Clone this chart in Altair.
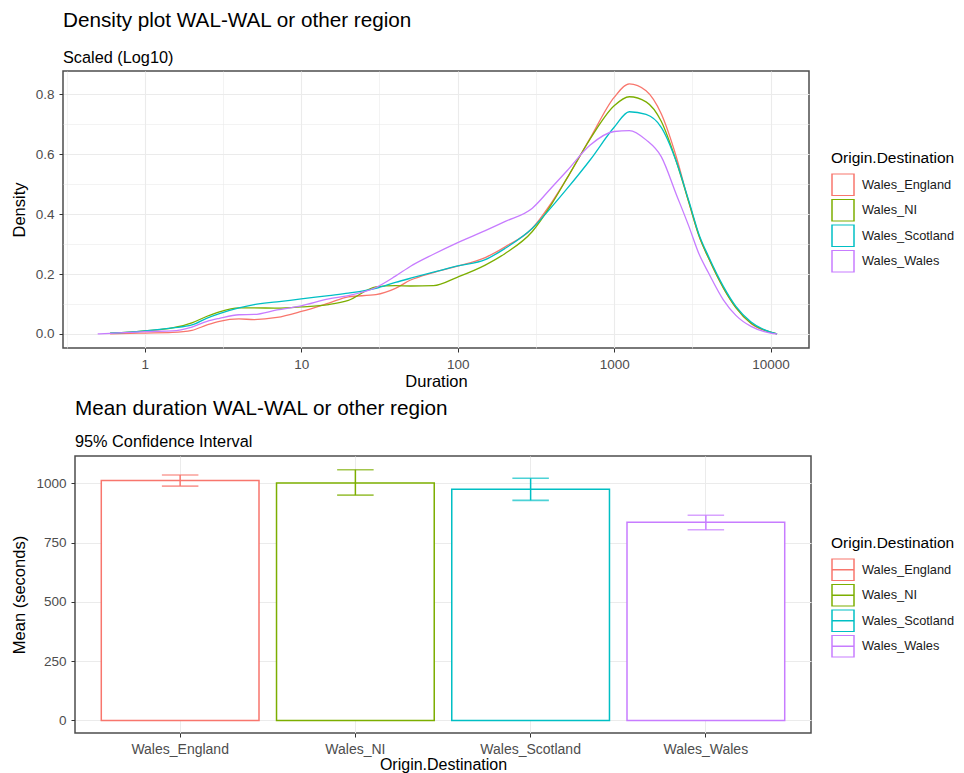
import altair as alt
import pandas as pd

FONT = "Liberation Sans"

categories = ["Wales_England", "Wales_NI", "Wales_Scotland", "Wales_Wales"]
colors = ["#F8766D", "#7CAE00", "#00BFC4", "#C77CFF"]

# Density curves, Duration on a log10 axis
durations = [0.5, 0.6, 0.8, 1, 1.5, 2, 2.5, 3, 4, 5,
             7, 10, 15, 20, 30, 40, 50, 70, 100, 150,
             200, 300, 400, 500, 700, 1000, 1250, 1600, 2000, 2500,
             3000, 3500, 4000, 5000, 6000, 7500, 10000, 11000]
dens_england = [None, 0.0, 0.002, 0.003, 0.005, 0.012, 0.03, 0.042, 0.05, 0.048,
                0.055, 0.075, 0.103, 0.124, 0.131, 0.152, 0.18, 0.205, 0.226, 0.255,
                0.29, 0.353, 0.44, 0.52, 0.652, 0.79, 0.835, 0.812, 0.735, 0.59,
                0.44, 0.325, 0.255, 0.153, 0.088, 0.035, 0.005, 0.0]
dens_ni = [None, 0.003, 0.006, 0.01, 0.02, 0.037, 0.059, 0.074, 0.087, 0.087,
           0.086, 0.09, 0.098, 0.112, 0.157, 0.161, 0.16, 0.161, 0.19, 0.23,
           0.268, 0.342, 0.435, 0.52, 0.65, 0.762, 0.792, 0.775, 0.71, 0.575,
           0.44, 0.325, 0.255, 0.153, 0.088, 0.036, 0.006, 0.0]
dens_scotland = [None, 0.003, 0.006, 0.01, 0.02, 0.03, 0.053, 0.068, 0.087, 0.098,
                 0.107, 0.117, 0.128, 0.136, 0.152, 0.172, 0.186, 0.206, 0.227, 0.248,
                 0.285, 0.353, 0.425, 0.485, 0.58, 0.69, 0.742, 0.733, 0.69, 0.575,
                 0.445, 0.33, 0.26, 0.158, 0.092, 0.04, 0.006, 0.0]
dens_wales = [0.0, 0.002, 0.005, 0.008, 0.01, 0.023, 0.042, 0.052, 0.064, 0.065,
              0.08, 0.094, 0.117, 0.128, 0.155, 0.193, 0.226, 0.266, 0.305, 0.345,
              0.375, 0.42, 0.49, 0.545, 0.63, 0.676, 0.679, 0.648, 0.592, 0.465,
              0.36, 0.265, 0.205, 0.113, 0.062, 0.025, 0.003, 0.0]

# Mean duration with 95% confidence interval
means = [1012, 1001, 975, 836]
ci_low = [988, 950, 928, 804]
ci_high = [1035, 1057, 1021, 865]

dens = {"Wales_England": dens_england, "Wales_NI": dens_ni,
        "Wales_Scotland": dens_scotland, "Wales_Wales": dens_wales}
rows = []
for cat in categories:
    for d, v in zip(durations, dens[cat]):
        if v is not None:
            rows.append({"Duration": d, "Density": v, "origin": cat})
df = pd.DataFrame(rows)
bars_df = pd.DataFrame({"origin": categories, "mean": means, "lo": ci_low, "hi": ci_high})

minor_log = "abs(log(datum.value)/LN10 - round(log(datum.value)/LN10)) > 0.25"
minor_y1 = "abs(datum.value*5 - round(datum.value*5)) > 0.01"
minor_y2 = "datum.value % 250 != 0"

def cond(test, minor_val, major_val):
    return {"condition": {"test": test, "value": minor_val}, "value": major_val}

x_top = alt.X("Duration:Q",
              scale=alt.Scale(type="log", domain=[0.3, 17600], nice=False),
              axis=alt.Axis(values=[0.3162, 1, 3.162, 10, 31.62, 100, 316.2, 1000, 3162, 10000],
                            labelExpr=f"({minor_log}) ? '' : format(datum.value, '~g')",
                            tickOpacity=cond(minor_log, 0, 1),
                            gridWidth=cond(minor_log, 0.6, 1.1),
                            labelPadding=5, titlePadding=3,
                            title="Duration"))
y_top = alt.Y("Density:Q",
              scale=alt.Scale(domain=[-0.047, 0.878], nice=False, zero=False),
              axis=alt.Axis(values=[0, 0.1, 0.2, 0.3, 0.4, 0.5, 0.6, 0.7, 0.8],
                            labelExpr=f"({minor_y1}) ? '' : format(datum.value, '.1f')",
                            tickOpacity=cond(minor_y1, 0, 1),
                            gridWidth=cond(minor_y1, 0.6, 1.1),
                            labelPadding=5, titlePadding=8,
                            title="Density"))

legend_common = dict(title="Origin.Destination", orient="none",
                     symbolSize=484, symbolStrokeWidth=1.5, symbolFillColor="white",
                     labelFontSize=12.8, titleFontSize=15.5, rowPadding=2.5, clipHeight=22.5,
                     labelOffset=7, titlePadding=7, labelColor="#1a1a1a",
                     titleColor="black", titleFontWeight="normal",
                     labelFont=FONT, titleFont=FONT)

lines = alt.Chart(df).mark_line(strokeWidth=1.3, interpolate="monotone").encode(
    x=x_top, y=y_top,
    color=alt.Color("origin:N", scale=alt.Scale(domain=categories, range=colors),
                    legend=alt.Legend(symbolType="square", legendX=768, legendY=80,
                                      **legend_common)))

top = alt.layer(lines).properties(
    width=746, height=277,
    title=alt.TitleParams("Density plot WAL-WAL or other region",
                          subtitle="Scaled (Log10)", anchor="start", frame="group",
                          subtitlePadding=18, offset=4))

x_bot = alt.X("origin:N", sort=categories,
              scale=alt.Scale(paddingInner=0.1, paddingOuter=0.15),
              axis=alt.Axis(title="Origin.Destination", labelAngle=0, grid=True,
                            labelPadding=5, titlePadding=0, labelFontSize=14,
                            titleFontSize=16))
y_bot = alt.Y("mean:Q",
              scale=alt.Scale(domain=[-53, 1115], nice=False, zero=False),
              axis=alt.Axis(values=[0, 125, 250, 375, 500, 625, 750, 875, 1000],
                            labelExpr=f"({minor_y2}) ? '' : format(datum.value, 'd')",
                            tickOpacity=cond(minor_y2, 0, 1),
                            gridWidth=cond(minor_y2, 0.6, 1.1),
                            labelPadding=5, titlePadding=8.5,
                            title="Mean (seconds)"))
stroke_enc = alt.Stroke("origin:N", scale=alt.Scale(domain=categories, range=colors),
                        legend=alt.Legend(symbolType="M-1,-1H1V1H-1Z M-1,0H1",
                                          legendX=756, legendY=80, **legend_common))

bars = alt.Chart(bars_df).mark_bar(fill="white", strokeWidth=1.5).encode(
    x=x_bot, y=y_bot, stroke=stroke_enc)
err = alt.Chart(bars_df).mark_rule(strokeWidth=1.5).encode(
    x=x_bot, y="lo:Q", y2="hi:Q", stroke=stroke_enc)
cap_lo = alt.Chart(bars_df).mark_tick(size=35, thickness=0.1, filled=False, strokeWidth=1.5).encode(
    x=x_bot, y="lo:Q", stroke=stroke_enc)
cap_hi = alt.Chart(bars_df).mark_tick(size=35, thickness=0.1, filled=False, strokeWidth=1.5).encode(
    x=x_bot, y="hi:Q", stroke=stroke_enc)

bottom = alt.layer(bars, err, cap_lo, cap_hi).properties(
    width=736, height=277,
    title=alt.TitleParams("Mean duration WAL-WAL or other region",
                          subtitle="95% Confidence Interval", anchor="start", frame="group",
                          subtitlePadding=15, offset=4.5))

# invisible spacer that shifts the lower panel 12px to the right of the upper one
spacer = alt.Chart(pd.DataFrame({"s": [0]})).mark_point(opacity=0).encode(
    x=alt.value(0), y=alt.value(0)
).properties(width=12, height=277, view=alt.ViewBackground(strokeOpacity=0))

bottom_row = alt.HConcatChart(hconcat=[spacer, bottom], spacing=0, bounds="flush").resolve_legend(
    stroke="independent")

chart = alt.vconcat(top, bottom_row, spacing=5).resolve_scale(
    color="independent", stroke="independent"
).resolve_legend(color="independent", stroke="independent").configure(
    padding={"left": 2, "top": 1, "right": 0, "bottom": 0}, font=FONT
).configure_view(
    stroke="#4d4d4d", strokeWidth=1.5
).configure_axis(
    domain=False, tickColor="#333333", tickSize=4, tickWidth=1,
    labelColor="#4d4d4d", labelFontSize=13.5, titleFontSize=16.5,
    titleFontWeight="normal", titleColor="black", gridColor="#ebebeb",
    labelFont=FONT, titleFont=FONT
).configure_title(
    fontSize=20.7, subtitleFontSize=16.3, fontWeight="normal", color="black",
    subtitleColor="black", anchor="start",
    font=FONT, subtitleFont=FONT
)

chart.save("out.html", embed_options={"renderer": "svg", "actions": False})
